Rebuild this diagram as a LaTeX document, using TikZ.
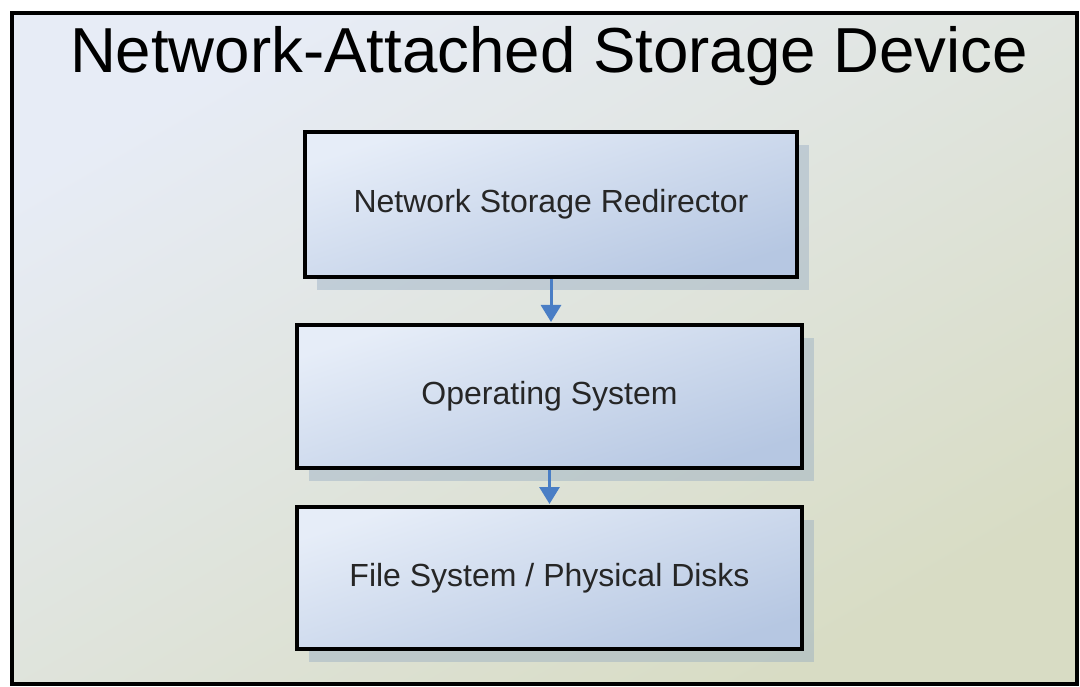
\documentclass[tikz,border=0pt]{standalone}
\usepackage{fontspec}
\setmainfont{Liberation Sans}
\usetikzlibrary{arrows.meta,shadows}

\definecolor{bglight}{RGB}{231,236,246}
\definecolor{bgdark}{RGB}{216,220,196}
\definecolor{boxlight}{RGB}{230,237,248}
\definecolor{boxdark}{RGB}{182,199,226}
\definecolor{arrowblue}{RGB}{74,126,197}
\definecolor{shadowblue}{RGB}{143,166,192}

\begin{document}
\begin{tikzpicture}[x=1pt,y=-1pt,
    layer/.style={draw=black,line width=4pt,top color=boxlight,bottom color=boxdark,shading angle=18,
        minimum height=143pt,font=\fontsize{32}{38}\selectfont,text=black!85,
        drop shadow={shadow xshift=12pt,shadow yshift=-13pt,fill=shadowblue,opacity=0.4}},
    flow/.style={-{Triangle[width=20pt,length=17pt]},draw=arrowblue,line width=3pt,shorten >=1pt}]
    \useasboundingbox (0,0) rectangle (1080,687);
    \node[draw=black,line width=4pt,top color=bglight,bottom color=bgdark,shading angle=30,
        minimum width=1065pt,minimum height=671pt] (device) at (544.5,348.5) {};
    \node[anchor=base,font=\fontsize{63.6}{70}\selectfont] (title) at (549,73) {Network-Attached Storage Device};
    \node[layer,minimum width=492pt,minimum height=145pt] (redirector) at (551,204.5) {Network Storage Redirector};
    \node[layer,minimum width=505pt] (os) at (549.5,396.5) {Operating System};
    \node[layer,minimum width=505pt,minimum height=142pt] (fs) at (549.5,578) {File System / Physical Disks};
    \draw[flow] (redirector.south) -- (redirector.south |- os.north);
    \draw[flow] (os.south) -- (fs.north);
\end{tikzpicture}
\end{document}
